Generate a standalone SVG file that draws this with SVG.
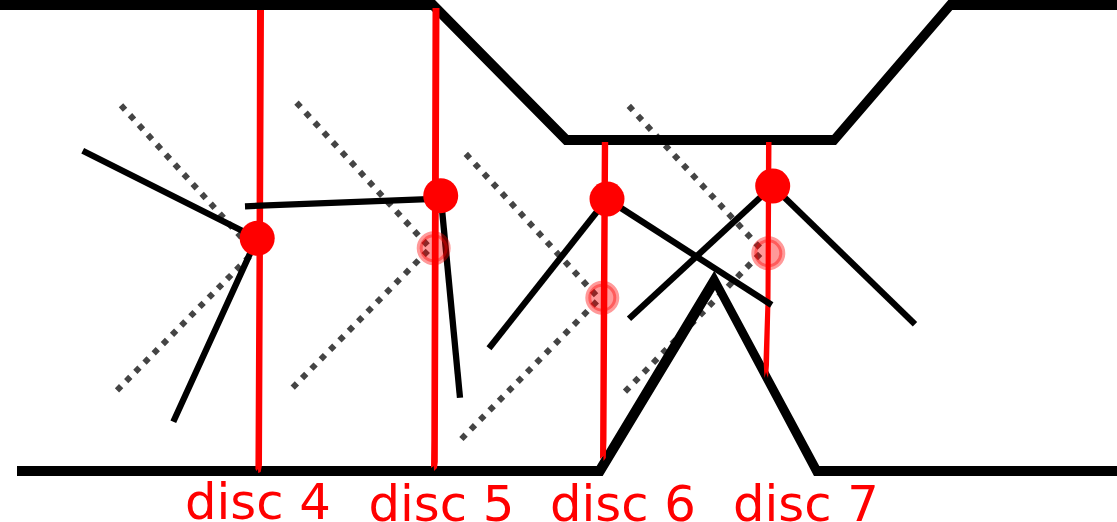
<svg xmlns="http://www.w3.org/2000/svg" width="1117" height="522" viewBox="0 0 1117 522">
<style>
.wall{fill:#000}
.dot{fill:none;stroke:#444;stroke-width:6;stroke-dasharray:.9 1.1}
.ray{fill:#f00}
.arm{fill:none;stroke:#000;stroke-width:6.300}
.pivot{fill:#f00}
.ghost{fill:#f00;fill-opacity:.4;stroke:#f00;stroke-opacity:.4;stroke-width:6}
.label{font-family:"DejaVu Sans",sans-serif;font-size:49.700px;fill:#f00;text-anchor:middle}
</style>
<rect width="1117" height="522" fill="#fff"/>
<g id="guides">
<path class="dot" pathLength="27" d="M121 105.300L242 238"/>
<path class="dot" pathLength="29" d="M117 390.400L250 256"/>
<path class="dot" pathLength="29" d="M296.500 102.600L428 245.800"/>
<path class="dot" pathLength="29" d="M292.700 387.700L428.300 250.300"/>
<path class="dot" pathLength="29" d="M465.800 153.900L596.500 295.700"/>
<path class="dot" pathLength="29" d="M461.400 439L597.300 301"/>
<path class="dot" pathLength="29" d="M628.800 105.900L760.200 248.100"/>
<path class="dot" pathLength="29" d="M625 391.600L760.600 253.400"/>
</g>
<g id="connectors">
<polygon class="wall" points="0,0 435,0 568.300,135 832.300,135 948.300,0 1117,0 1117,10 952.300,10 836,145 564.300,145 431,10 0,10"/>
<polygon class="wall" points="17,466 596.700,466 714.300,270.700 819.300,466 1117,466 1117,476 814,476 715,290 602.700,476 17,476"/>
</g>
<g id="disc4">
<path class="ray" d="M257 10H264L262 465L260.700 472L258.200 473L258 469L256.600 471L255.400 469L256.500 250Z"/>
<path class="arm" d="M82.700 150.700L257 238.300L173.300 421.700"/>
<circle class="pivot" cx="257.200" cy="238.300" r="17.500"/>
<text class="label" x="258" y="519">disc 4</text>
</g>
<g id="disc5">
<path class="ray" d="M432.500 8H439.500L437.800 462L437 468L434 471L433.700 466L431 468L431.300 440Z"/>
<path class="arm" d="M245 206.300L440.700 198.700"/>
<path class="arm" d="M440.700 195.700L460 397.700"/>
<circle class="pivot" cx="440.700" cy="195.700" r="17.500"/>
<circle class="ghost" cx="433.700" cy="248.300" r="14"/>
<text class="label" x="441.500" y="520.500">disc 5</text>
</g>
<g id="disc7">
<path class="ray" d="M766 142H771.500L770.500 300L769 365L768 378L766 372L764.500 378L763.500 360L765.500 300Z"/>
<path class="arm" d="M772.700 186L629 318.700"/>
<path class="arm" d="M772.700 186L915 324.300"/>
<circle class="pivot" cx="772.700" cy="186" r="17.500"/>
<circle class="ghost" cx="768.300" cy="253.300" r="14"/>
<text class="label" x="806" y="520.500">disc 7</text>
</g>
<g id="disc6">
<path class="ray" d="M601.800 142H608.200L606.500 440L605.800 458L603.500 461L603.400 456L600 459L600.800 300Z"/>
<path class="arm" d="M607 199L489 348.300"/>
<path class="arm" d="M607 199L771.700 305"/>
<circle class="pivot" cx="607" cy="199" r="17.500"/>
<circle class="ghost" cx="602.300" cy="297.700" r="14"/>
<text class="label" x="623" y="520.500">disc 6</text>
</g>
</svg>
